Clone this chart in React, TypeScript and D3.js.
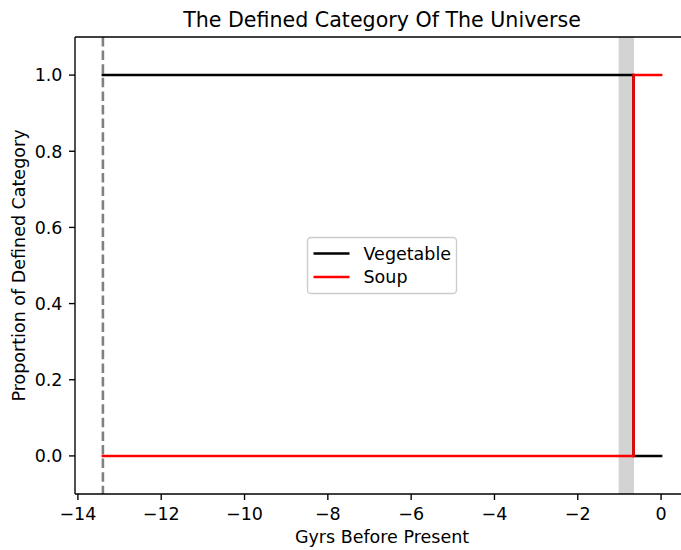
import React from "react";
import * as d3 from "d3";

const times = [-13.4, -0.66, 0];
const vegetable = [1, 0, 0];
const soup = [0, 1, 1];
const bandStart = -1.02;
const bandEnd = -0.65;
const startLine = -13.4;
const xTicks = [-14, -12, -10, -8, -6, -4, -2, 0];
const yTicks = [0, 0.2, 0.4, 0.6, 0.8, 1.0];
const seriesNames = ["Vegetable", "Soup"];
const seriesColors = ["#000000", "#ff0000"];

const W = 681;
const H = 550;
const L = 75;
const R = 689;
const T = 37;
const B = 494;
const FONT = "DejaVu Sans, sans-serif";
const FS = 17.5;

export default function App() {
  const x = d3.scaleLinear().domain([-14.07, 0.67]).range([L, R]);
  const y = d3.scaleLinear().domain([-0.1, 1.1]).range([B, T]);
  const line = d3
    .line<[number, number]>()
    .x((d) => x(d[0]))
    .y((d) => y(d[1]))
    .curve(d3.curveStepAfter);
  const series = [vegetable, soup];
  const fmtX = (v: number) => (v < 0 ? "\u2212" + Math.abs(v) : String(v));
  const lw = 2.58;
  const cx = (L + R) / 2;
  const cy = (T + B) / 2;
  const legW = 149;
  const legH = 56;
  const legX = cx - legW / 2;
  const legY = cy - legH / 2;
  return (
    <svg
      width={W}
      height={H}
      style={{ position: "absolute", left: 0, top: 0, fontFamily: FONT }}
    >
      <rect x={0} y={0} width={W} height={H} fill="#fff" />
      <defs>
        <clipPath id="plot">
          <rect x={L} y={T} width={R - L} height={B - T} />
        </clipPath>
      </defs>
      <g clipPath="url(#plot)">
        <rect
          x={x(bandStart)}
          y={T}
          width={x(bandEnd) - x(bandStart)}
          height={B - T}
          fill="#d3d3d3"
        />
        <line
          x1={x(startLine)}
          x2={x(startLine)}
          y1={T}
          y2={B}
          stroke="#808080"
          strokeWidth={lw}
          strokeDasharray="9.5,4.1"
        />
        {series.map((s, i) => (
          <path
            key={i}
            d={line(times.map((t, j) => [t, s[j]] as [number, number])) || ""}
            fill="none"
            stroke={seriesColors[i]}
            strokeWidth={lw}
            strokeLinejoin="miter"
            strokeLinecap="square"
          />
        ))}
      </g>
      <line x1={L} x2={L} y1={T} y2={B} stroke="#000" strokeWidth={1.37} />
      <line x1={L} x2={R} y1={B} y2={B} stroke="#000" strokeWidth={1.37} />
      <line x1={L} x2={R} y1={T} y2={T} stroke="#000" strokeWidth={1.37} />
      <line x1={R} x2={R} y1={T} y2={B} stroke="#000" strokeWidth={1.37} />
      {xTicks.map((t) => (
        <g key={"x" + t}>
          <line x1={x(t)} x2={x(t)} y1={B} y2={B + 6} stroke="#000" strokeWidth={1.37} />
          <text x={x(t)} y={520} textAnchor="middle" fontSize={FS} fill="#000">
            {fmtX(t)}
          </text>
        </g>
      ))}
      {yTicks.map((t) => (
        <g key={"y" + t}>
          <line x1={L - 6} x2={L} y1={y(t)} y2={y(t)} stroke="#000" strokeWidth={1.37} />
          <text
            x={L - 12.5}
            y={y(t)}
            dy="0.36em"
            textAnchor="end"
            fontSize={FS}
            fill="#000"
          >
            {t.toFixed(1)}
          </text>
        </g>
      ))}
      <text x={cx} y={543} textAnchor="middle" fontSize={FS} fill="#000">
        Gyrs Before Present
      </text>
      <text
        transform={`translate(25,${cy}) rotate(-90)`}
        textAnchor="middle"
        fontSize={FS}
        fill="#000"
      >
        Proportion of Defined Category
      </text>
      <text x={cx} y={26.7} textAnchor="middle" fontSize={20.6} fill="#000">
        The Defined Category Of The Universe
      </text>
      <g>
        <rect
          x={legX}
          y={legY}
          width={legW}
          height={legH}
          rx={3.5}
          fill="#fff"
          fillOpacity={0.8}
          stroke="#cccccc"
          strokeWidth={1.37}
        />
        {seriesNames.map((n, i) => (
          <g key={n}>
            <line
              x1={legX + 6}
              x2={legX + 42}
              y1={legY + 16 + i * 23.5}
              y2={legY + 16 + i * 23.5}
              stroke={seriesColors[i]}
              strokeWidth={lw}
            />
            <text
              x={legX + 56}
              y={legY + 16 + i * 23.5}
              dy="0.36em"
              fontSize={FS}
              fill="#000"
            >
              {n}
            </text>
          </g>
        ))}
      </g>
    </svg>
  );
}
